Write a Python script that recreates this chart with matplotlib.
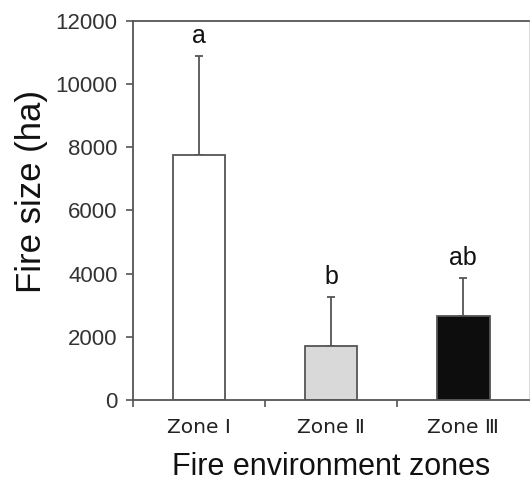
import numpy as np
import matplotlib.pyplot as plt

# data
zones = ['Zone Ⅰ', 'Zone Ⅱ', 'Zone Ⅲ']
fire_size = [7750, 1720, 2670]
fire_err = [3130, 1530, 1180]
letters = ['a', 'b', 'ab']
colors = ['white', '#d9d9d9', '#0d0d0d']

plt.rcParams['font.family'] = ['Liberation Sans', 'DejaVu Sans']
edge = '#555555'

fig = plt.figure(figsize=(5.31, 4.84), dpi=100)
ax = fig.add_axes([0.2505, 0.1736, 0.746, 0.783])

x = np.arange(len(zones))
ax.bar(x, fire_size, width=0.4, color=colors, edgecolor=edge, linewidth=1.3, zorder=2)
ax.errorbar(x, fire_size, yerr=[np.zeros(len(x)), fire_err], fmt='none',
            ecolor=edge, elinewidth=1.3, capsize=3, capthick=1.3, zorder=1)
for xi, v, e, t in zip(x, fire_size, fire_err, letters):
    ax.text(xi, v + e + 250, t, ha='center', va='bottom', fontsize=18, color='#111111')

ax.set_xlim(-0.5, 2.5)
ax.set_ylim(0, 12000)
ax.set_yticks(range(0, 12001, 2000))
ax.set_xticks(x)
ax.set_xticklabels(zones, family=['DejaVu Sans', 'Noto Sans CJK SC'], fontsize=14.5, color='#222222')
ax.set_xticks([-0.5, 0.5, 1.5], minor=True)
ax.tick_params(axis='x', which='major', length=0, pad=13)
ax.tick_params(axis='x', which='minor', length=5, width=1.2, color=edge, direction='out')
ax.tick_params(axis='y', length=5, width=1.2, color=edge, labelsize=16, labelcolor='#333333', pad=6)

for s in ['left', 'bottom', 'top']:
    ax.spines[s].set_color(edge)
    ax.spines[s].set_linewidth(1.3)
ax.spines['right'].set_color('#dddddd')

ax.set_ylabel('Fire size (ha)', fontsize=25, color='#111111')
ax.yaxis.set_label_coords(-0.215, 0.55)
ax.set_xlabel('Fire environment zones', fontsize=22, color='#111111', labelpad=11)

fig.savefig('out.png', dpi=100)
